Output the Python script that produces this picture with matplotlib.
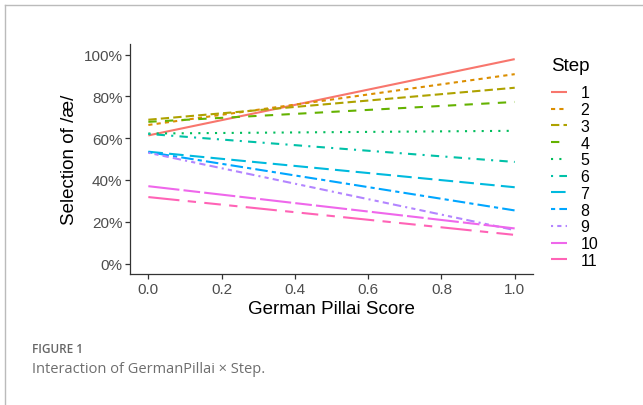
import matplotlib.pyplot as plt
from matplotlib.lines import Line2D
from matplotlib.ticker import PercentFormatter

# predicted selection of /ae/ at German Pillai = 0 and = 1, per step
steps = ['1', '2', '3', '4', '5', '6', '7', '8', '9', '10', '11']
pillai = [0.0, 1.0]
start_vals = [0.613, 0.663, 0.688, 0.678, 0.622, 0.620, 0.535, 0.533, 0.530, 0.370, 0.318]
end_vals = [0.978, 0.906, 0.841, 0.773, 0.635, 0.486, 0.365, 0.254, 0.160, 0.168, 0.137]

# ggplot2 default hue palette (11 levels) and linetype palette
colors = ['#F8766D', '#DB8E00', '#AEA200', '#64B200', '#00BD5C', '#00C1A7',
          '#00BADE', '#00A6FF', '#B385FF', '#EF67EB', '#FF63B6']
dashes = [None, (2, 2), (4, 2), (4, 4), (1, 3), (1, 3, 4, 3), (7, 3),
          (2, 2, 6, 2), (1, 2, 2, 2, 3, 2, 4, 2), (15, 2, 8, 2),
          (15, 4, 4, 4, 8, 4, 4, 4)]

plt.rcParams['font.family'] = ['Liberation Sans', 'DejaVu Sans']

fig = plt.figure(figsize=(6.43, 4.06), dpi=100)
ax = fig.add_axes([0.2022, 0.3227, 0.6268, 0.5663])

for i, s in enumerate(steps):
    line, = ax.plot(pillai, [start_vals[i], end_vals[i]], color=colors[i],
                    linewidth=1.5, label=s, solid_capstyle='butt')
    if dashes[i] is not None:
        line.set_dashes(dashes[i])

ax.set_xlim(-0.05, 1.05)
ax.set_ylim(-0.05, 1.05)
ax.set_xticks([0, 0.2, 0.4, 0.6, 0.8, 1.0])
ax.set_xticklabels(['0.0', '0.2', '0.4', '0.6', '0.8', '1.0'])
ax.set_yticks([0, 0.2, 0.4, 0.6, 0.8, 1.0])
ax.yaxis.set_major_formatter(PercentFormatter(1.0, decimals=0))

for side in ['top', 'right']:
    ax.spines[side].set_visible(False)
for side in ['left', 'bottom']:
    ax.spines[side].set_color('#333333')
    ax.spines[side].set_linewidth(0.9)
ax.tick_params(axis='both', colors='#333333', labelcolor='#4D4D4D',
               labelsize=11, length=3.5, width=0.9, pad=2)

ax.set_xlabel('German Pillai Score', fontsize=13.5, color='black', labelpad=3)
ax.set_ylabel('Selection of /æ/', fontsize=13.5, color='black', labelpad=4)

leg = ax.legend(title='Step', loc='upper left', bbox_to_anchor=(0.847, 0.874),
                bbox_transform=fig.transFigure, frameon=False, fontsize=11.5,
                title_fontsize=13.5, handlelength=1.0, handletextpad=0.85,
                labelspacing=0.11, borderaxespad=0)
leg._legend_box.align = 'left'
leg._legend_box.sep = 8.5

# surrounding frame of the figure panel
fig.add_artist(Line2D([5 / 643, 1], [1 - 6 / 406, 1 - 6 / 406],
                      transform=fig.transFigure, color='#BBBBBB', linewidth=1))
fig.add_artist(Line2D([5 / 643, 5 / 643], [0, 1 - 6 / 406],
                      transform=fig.transFigure, color='#BBBBBB', linewidth=1))

fig.text(32 / 643, 1 - 350 / 406, 'FIGURE 1', fontsize=8.5, color='#666666',
         fontweight='semibold', family='Open Sans', va='center')
fig.text(32 / 643, 1 - 370 / 406, 'Interaction of GermanPillai × Step.',
         fontsize=10.5, color='#6E6E6E', family='Open Sans', va='center')

fig.savefig('out.png', dpi=100, facecolor='white')
